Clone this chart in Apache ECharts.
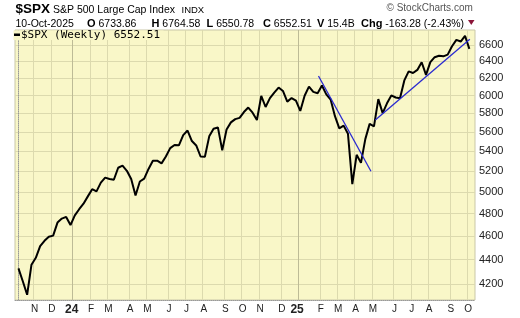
<!DOCTYPE html>
<html><head><meta charset="utf-8">
<script src="https://cdn.jsdelivr.net/npm/echarts@6/dist/echarts.min.js"></script>
<style>html,body{margin:0;padding:0;background:#fff}#c{width:520px;height:318px}</style>
</head><body><div id="c"></div><script>
// Weekly closes of $SPX (week-ending dates)
const weekDates = [
'2023-10-13','2023-10-20','2023-10-27','2023-11-03','2023-11-10','2023-11-17','2023-11-24','2023-12-01','2023-12-08','2023-12-15','2023-12-22','2023-12-29',
'2024-01-05','2024-01-12','2024-01-19','2024-01-26','2024-02-02','2024-02-09','2024-02-16','2024-02-23','2024-03-01','2024-03-08','2024-03-15','2024-03-22','2024-03-28',
'2024-04-05','2024-04-12','2024-04-19','2024-04-26','2024-05-03','2024-05-10','2024-05-17','2024-05-24','2024-05-31','2024-06-07','2024-06-14','2024-06-21','2024-06-28',
'2024-07-05','2024-07-12','2024-07-19','2024-07-26','2024-08-02','2024-08-09','2024-08-16','2024-08-23','2024-08-30','2024-09-06','2024-09-13','2024-09-20','2024-09-27',
'2024-10-04','2024-10-11','2024-10-18','2024-10-25','2024-11-01','2024-11-08','2024-11-15','2024-11-22','2024-11-29','2024-12-06','2024-12-13','2024-12-20','2024-12-27',
'2025-01-03','2025-01-10','2025-01-17','2025-01-24','2025-01-31','2025-02-07','2025-02-14','2025-02-21','2025-02-28','2025-03-07','2025-03-14','2025-03-21','2025-03-28',
'2025-04-04','2025-04-11','2025-04-17','2025-04-25','2025-05-02','2025-05-09','2025-05-16','2025-05-23','2025-05-30','2025-06-06','2025-06-13','2025-06-20','2025-06-27',
'2025-07-03','2025-07-11','2025-07-18','2025-07-25','2025-08-01','2025-08-08','2025-08-15','2025-08-22','2025-08-29','2025-09-05','2025-09-12','2025-09-19','2025-09-26',
'2025-10-03','2025-10-10'];
const closes = [
4327.78,4224.16,4117.37,4358.34,4415.24,4514.02,4559.34,4594.63,4604.37,4719.19,4754.63,4769.83,
4697.24,4783.83,4839.81,4890.97,4958.61,5026.61,5005.57,5088.80,5137.08,5123.69,5117.09,5234.18,5254.35,
5204.34,5123.41,4967.23,5099.96,5127.79,5222.68,5303.27,5304.72,5277.51,5346.99,5431.60,5464.62,5460.48,
5567.19,5615.35,5505.00,5459.10,5346.56,5344.16,5554.25,5634.61,5648.40,5408.42,5626.02,5702.55,5738.17,
5751.07,5815.03,5864.67,5808.12,5728.80,5995.54,5870.62,5969.34,6032.38,6090.27,6051.09,5930.85,5970.84,
5942.47,5827.04,5996.66,6101.24,6040.53,6025.99,6114.63,6013.13,5954.50,5770.20,5638.94,5667.56,5580.94,
5074.08,5363.36,5282.70,5525.21,5686.67,5659.91,5958.38,5802.82,5911.69,6000.36,5976.97,5967.84,6173.07,
6279.35,6259.75,6296.79,6388.64,6238.01,6389.45,6449.80,6466.91,6460.26,6481.50,6584.29,6664.36,6643.70,
6715.79,6552.51];
// Trend lines: [week index, price]
const downTrend = [[69.2, 6225], [81.3, 5200]];
const upTrend = [[82.3, 5728], [104.1, 6671]];
// Axis ticks/labels
const yTickValues = [4200,4400,4600,4800,5000,5200,5400,5600,5800,6000,6200,6400,6600];
const monthLetters = ['J','F','M','A','M','J','J','A','S','O','N','D'];
// Header values
const symbolText = '$SPX';
const nameText = 'S&P 500 Large Cap Index';
const exchText = 'INDX';
const dateText = '10-Oct-2025';
const openVal = 6733.86, highVal = 6764.58, lowVal = 6550.78, closeVal = 6552.51;
const volText = '15.4B';
const chgVal = -163.28, chgPct = -2.43;

const BG = '#F9F7C8';
const monthTicks = [], yearTicks = [], tickLabel = {};
for (let i = 1; i < weekDates.length; i++) {
  const m = +weekDates[i].slice(5,7), pm = +weekDates[i-1].slice(5,7);
  if (m !== pm) {
    const v = i + 0.5;
    monthTicks.push(v);
    if (m === 1) { yearTicks.push(v); tickLabel[v.toFixed(1)] = '{y|' + weekDates[i].slice(2,4) + '}'; }
    else tickLabel[v.toFixed(1)] = '{m|' + monthLetters[m-1] + '}';
  }
}
const seriesData = closes.map((c, i) => [i, c]);
const xMin = -0.8, xMax = 105.3;
const FONT = 'Liberation Sans, Arial, sans-serif';

const chart = echarts.init(document.getElementById('c'), null, {renderer: 'canvas'});
function hdr(x, y, text, size, bold) {
  return {type: 'text', x: x, y: y, z: 100, style: {
    text: text, fontFamily: FONT, fontSize: size, fontWeight: bold ? 'bold' : 'normal',
    fill: '#000', verticalAlign: 'middle', align: 'left',
    rich: {b: {fontFamily: FONT, fontSize: 11, fontWeight: 'bold', fill: '#000'}}
  }};
}
chart.setOption({
  animation: false,
  backgroundColor: '#fff',
  grid: {left: 15, right: 45, top: 30, bottom: 18, show: true, backgroundColor: BG, borderColor: '#C9C7A8', borderWidth: 1},
  xAxis: [{
    type: 'value', min: xMin, max: xMax, position: 'bottom',
    axisLine: {show: true, onZero: false, lineStyle: {color: '#999', type: 'dotted', width: 1}},
    axisTick: {show: false, customValues: monthTicks},
    axisLabel: {customValues: monthTicks, margin: 4, color: '#222', fontFamily: FONT, fontSize: 10,
      formatter: v => tickLabel[v.toFixed(1)] || '',
      rich: {m: {fontFamily: FONT, fontSize: 10, color: '#222', padding: [0,0,0,2]},
             y: {fontFamily: FONT, fontSize: 12, fontWeight: 'bold', color: '#222', padding: [0,2,0,0]}}},
    splitLine: {show: true, lineStyle: {color: '#DCDAAE', width: 1}}
  }, {
    type: 'value', min: xMin, max: xMax, position: 'top', show: true,
    axisLine: {show: false}, axisLabel: {show: false},
    axisTick: {show: false, customValues: yearTicks},
    splitLine: {show: true, lineStyle: {color: '#BDBB96', width: 1}}
  }],
  yAxis: {
    type: 'log', logBase: 10, min: 4077, max: 6790, position: 'right',
    axisLine: {show: true, lineStyle: {color: '#999', type: 'dotted'}},
    axisTick: {show: false, customValues: yTickValues},
    axisLabel: {customValues: yTickValues, margin: 4, color: '#222', fontFamily: FONT, fontSize: 11,
      formatter: v => String(Math.round(v))},
    splitLine: {show: true, lineStyle: {color: '#DCDAAE', width: 1}}
  },
  series: [{
    type: 'line', name: '$SPX (Weekly)', data: seriesData, showSymbol: false, symbol: 'none',
    lineStyle: {color: '#000', width: 2}, z: 5
  }, {
    type: 'line', data: downTrend, showSymbol: false, symbol: 'none',
    lineStyle: {color: '#2A2AD0', width: 1.3}, z: 6
  }, {
    type: 'line', data: upTrend, showSymbol: false, symbol: 'none',
    lineStyle: {color: '#2A2AD0', width: 1.3}, z: 6
  }],
  graphic: [
    hdr(15.5, 9.5, symbolText, 13.5, true),
    hdr(53, 10, nameText, 10.5, false),
    hdr(181.5, 10.5, exchText, 9.5, false),
    hdr(15.5, 24, dateText, 10.5, false),
    hdr(87, 24, '{b|O} ' + openVal.toFixed(2), 10.5, false),
    hdr(151.5, 24, '{b|H} ' + highVal.toFixed(2), 10.5, false),
    hdr(206.5, 24, '{b|L} ' + lowVal.toFixed(2), 10.5, false),
    hdr(263, 24, '{b|C} ' + closeVal.toFixed(2), 10.5, false),
    hdr(317, 24, '{b|V} ' + volText, 10.5, false),
    hdr(361, 24, '{b|Chg} ' + chgVal.toFixed(2) + ' (' + chgPct.toFixed(2) + '%)', 10.5, false),
    {type: 'polygon', z: 100, shape: {points: [[468, 20], [474.5, 20], [471.25, 25]]}, style: {fill: '#8B1538'}},
    {type: 'text', x: 386.5, y: 8, z: 100, style: {text: '\u00A9 StockCharts.com', fontFamily: FONT, fontSize: 10, fill: '#555', verticalAlign: 'middle'}},
    {type: 'rect', z: 50, shape: {x: 13.5, y: 30.5, width: 150, height: 9.5}, style: {fill: BG}},
    {type: 'rect', z: 51, shape: {x: 14, y: 33.5, width: 6, height: 2.5}, style: {fill: '#000'}},
    {type: 'text', x: 21, y: 35, z: 51, style: {text: '$SPX (Weekly) ' + closes[closes.length-1].toFixed(2),
      fontFamily: 'DejaVu Sans Mono, monospace', fontSize: 11, fill: '#000', verticalAlign: 'middle'}}
  ]
});
</script></body></html>
